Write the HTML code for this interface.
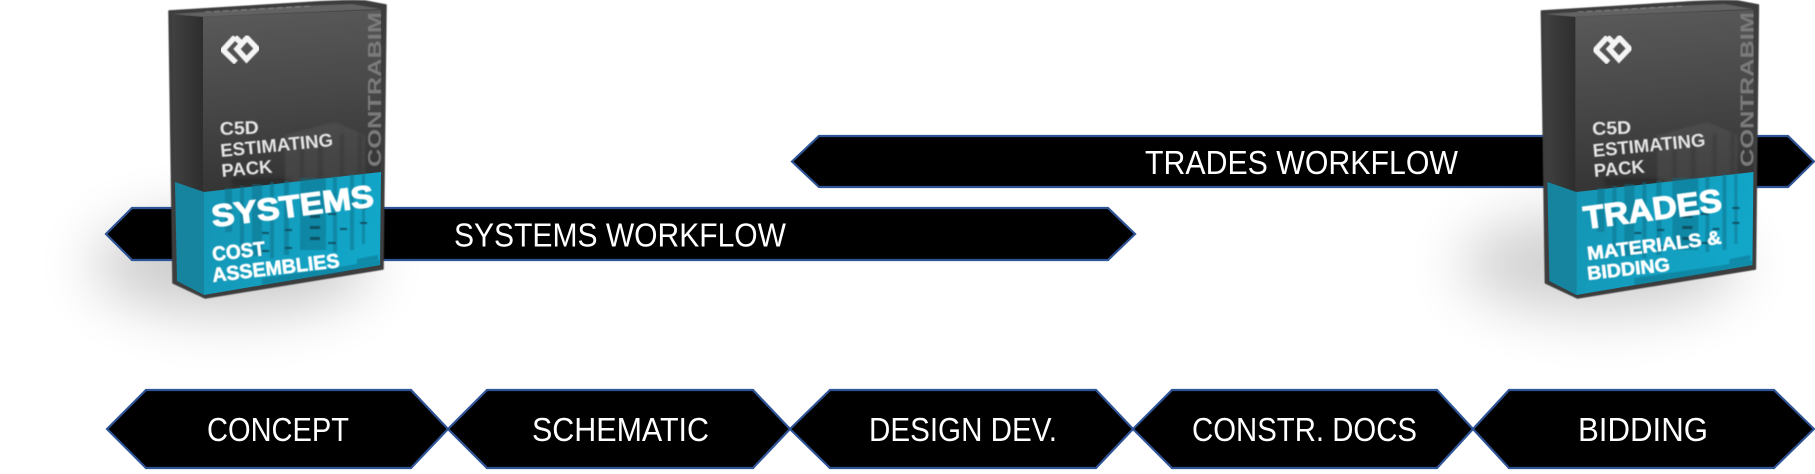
<!DOCTYPE html>
<html><head><meta charset="utf-8"><style>
html,body{margin:0;padding:0;background:#fff;width:1815px;height:474px;overflow:hidden}
svg{display:block}
text{font-family:"Liberation Sans",sans-serif}
.w{font-size:33px;fill:#fff}
.b{font-weight:700;fill:#fff}
</style></head><body>
<svg width="1815" height="474" viewBox="0 0 1815 474" xmlns="http://www.w3.org/2000/svg">
<defs>
<filter id="blur" x="-60%" y="-100%" width="220%" height="300%"><feGaussianBlur stdDeviation="29"/></filter>
<filter id="soft" x="-5%" y="-5%" width="110%" height="110%"><feGaussianBlur stdDeviation="0.6"/></filter>
<filter id="soft2" x="-5%" y="-5%" width="110%" height="110%"><feGaussianBlur stdDeviation="1"/></filter>
<linearGradient id="front" x1="0.35" y1="0" x2="0.45" y2="1"><stop offset="0" stop-color="#595959"/><stop offset="0.5" stop-color="#474747"/><stop offset="1" stop-color="#333"/></linearGradient>
<linearGradient id="side" x1="0" y1="0" x2="1" y2="0"><stop offset="0" stop-color="#414141"/><stop offset="1" stop-color="#2d2d2d"/></linearGradient>
<linearGradient id="blue" x1="0" y1="0" x2="1" y2="0.3"><stop offset="0" stop-color="#1594b3"/><stop offset="1" stop-color="#12a6c8"/></linearGradient>
<g id="box">
<path d="M169,11 L300,3 Q345,0 365,1 L386,5 L383,269 L205,298 L173,283 Z" fill="#3c3c3c" stroke="#3c3c3c" stroke-width="1.5" stroke-linejoin="round" filter="url(#soft)"/>
<polygon points="172,14 300,6 352,4 381,9 203,17" fill="#626262" filter="url(#soft)"/>
<g stroke="#9a9a9a" stroke-width="1" stroke-dasharray="6 3" opacity=".7" filter="url(#soft)"><line x1="205" y1="12" x2="312" y2="6"/></g>
<polygon points="172,15 203,17 203,192 175,182" fill="url(#side)"/>
<polygon points="203,17 381,10 381,172 203,192" fill="url(#front)"/>
<g filter="url(#soft2)" fill="#222" opacity=".45">
<rect x="300" y="148" width="4" height="36"/><rect x="318" y="138" width="5" height="44"/><rect x="340" y="134" width="4" height="42"/><rect x="358" y="134" width="4" height="42"/><rect x="232" y="178" width="60" height="8"/>
</g>
<g filter="url(#soft2)" fill="#6c6c6c" opacity=".25"><polygon points="285,135 335,122 365,135 365,175 285,185"/></g>
<polygon points="175,182 204,192 204,295 177,281" fill="#16849e"/>
<polygon points="204,192 381,172 380,265 204,295" fill="url(#blue)"/>
<g fill="#0d6f89" opacity=".5" filter="url(#soft)">
<rect x="225" y="188" width="7" height="44"/><rect x="240" y="186" width="4" height="70"/><rect x="252" y="184" width="10" height="72"/><rect x="270" y="182" width="4" height="76"/><rect x="284" y="181" width="5" height="74"/><rect x="300" y="178" width="26" height="72"/><rect x="333" y="176" width="4" height="76"/><rect x="350" y="174" width="4" height="76"/><rect x="362" y="174" width="3" height="70"/>
<polygon points="357,259 378,255 378,260 357,264"/><polygon points="345,266 380,260 380,265 345,271"/><polygon points="262,278 345,266 345,272 262,285"/>
</g>
<g fill="#0b3f4f" opacity=".75" filter="url(#soft)">
<rect x="262" y="232" width="7" height="2"/><rect x="285" y="229" width="7" height="2"/><rect x="310" y="215" width="10" height="3"/><rect x="310" y="226" width="10" height="3"/><rect x="310" y="237" width="10" height="3"/><rect x="328" y="213" width="8" height="2"/><rect x="360" y="222" width="7" height="2"/><rect x="285" y="247" width="7" height="2"/><rect x="328" y="242" width="8" height="2"/><rect x="360" y="207" width="7" height="2"/><rect x="340" y="228" width="7" height="2"/><rect x="262" y="250" width="7" height="2"/>
</g>
<g fill="none" stroke="#f4f4f4" stroke-width="5.5" stroke-linejoin="miter" filter="url(#soft)">
<polyline points="235,37 223,50 236,62.5"/>
<polygon points="247,38 257,48.5 246.5,59.5 237,49"/>
<polyline points="235,37 240,42"/>
</g>
</g>
</defs>

<rect width="1815" height="474" fill="#fff"/>
<ellipse cx="232" cy="264" rx="140" ry="50" fill="#000" opacity=".2" filter="url(#blur)"/>
<ellipse cx="1600" cy="264" rx="140" ry="50" fill="#000" opacity=".18" filter="url(#blur)"/>

<g stroke="#2f5496" stroke-width="2.2" fill="#000" stroke-linejoin="miter">
<polygon points="792,161.5 819,136 1788,136 1814,161.5 1788,187 819,187"/>
<polygon points="106,234 132,208 1108,208 1135,234 1108,260 132,260"/>
<polygon points="107,429 146,390 411,390 448,429 411,468 146,468"/>
<polygon points="448,429 487,390 753,390 790,429 753,468 487,468"/>
<polygon points="790,429 830,390 1096,390 1133,429 1096,468 830,468"/>
<polygon points="1133,429 1172,390 1437,390 1473,429 1437,468 1172,468"/>
<polygon points="1473,429 1509,390 1774,390 1814,429 1774,468 1509,468"/>
</g>

<text class="w" x="1145" y="174" textLength="313" lengthAdjust="spacingAndGlyphs">TRADES WORKFLOW</text>
<text class="w" x="454" y="246.5" textLength="332" lengthAdjust="spacingAndGlyphs">SYSTEMS WORKFLOW</text>
<text class="w" x="207" y="441" textLength="142" lengthAdjust="spacingAndGlyphs">CONCEPT</text>
<text class="w" x="532" y="441" textLength="177" lengthAdjust="spacingAndGlyphs">SCHEMATIC</text>
<text class="w" x="869" y="441" textLength="188" lengthAdjust="spacingAndGlyphs">DESIGN DEV.</text>
<text class="w" x="1192" y="441" textLength="225" lengthAdjust="spacingAndGlyphs">CONSTR. DOCS</text>
<text class="w" x="1578" y="441" textLength="130" lengthAdjust="spacingAndGlyphs">BIDDING</text>

<use href="#box"/>
<g filter="url(#soft)">
<text transform="translate(381,167) rotate(-90)" font-size="18" font-weight="700" fill="#7a7a7a" textLength="155" lengthAdjust="spacingAndGlyphs">CONTRABIM</text>
<text class="b" font-size="18.5" transform="translate(220,135) rotate(-2)" textLength="39" lengthAdjust="spacingAndGlyphs" style="fill:#e4e4e4">C5D</text>
<text class="b" font-size="18.5" transform="translate(221,157) rotate(-5.6)" textLength="113" lengthAdjust="spacingAndGlyphs" style="fill:#e4e4e4">ESTIMATING</text>
<text class="b" font-size="18.5" transform="translate(222,177) rotate(-5)" textLength="51" lengthAdjust="spacingAndGlyphs" style="fill:#e4e4e4">PACK</text>
<text class="b" font-size="31" stroke="#fff" stroke-width="1.2" transform="translate(213,227) rotate(-7.3)" textLength="163" lengthAdjust="spacingAndGlyphs">SYSTEMS</text>
<text class="b" font-size="20" stroke="#fff" stroke-width=".6" transform="translate(213,261) rotate(-6.5)" textLength="53" lengthAdjust="spacingAndGlyphs">COST</text>
<text class="b" font-size="20" stroke="#fff" stroke-width=".6" transform="translate(213,282) rotate(-6.7)" textLength="128" lengthAdjust="spacingAndGlyphs">ASSEMBLIES</text>
</g>

<use href="#box" x="1372.4"/>
<g filter="url(#soft)">
<text transform="translate(1753.4,167) rotate(-90)" font-size="18" font-weight="700" fill="#7a7a7a" textLength="155" lengthAdjust="spacingAndGlyphs">CONTRABIM</text>
<text class="b" font-size="18.5" transform="translate(1592.4,135) rotate(-2)" textLength="39" lengthAdjust="spacingAndGlyphs" style="fill:#e4e4e4">C5D</text>
<text class="b" font-size="18.5" transform="translate(1593.4,157) rotate(-5.6)" textLength="113" lengthAdjust="spacingAndGlyphs" style="fill:#e4e4e4">ESTIMATING</text>
<text class="b" font-size="18.5" transform="translate(1594.4,177) rotate(-5)" textLength="51" lengthAdjust="spacingAndGlyphs" style="fill:#e4e4e4">PACK</text>
<text class="b" font-size="32" stroke="#fff" stroke-width="1.2" transform="translate(1585,229) rotate(-7.5)" textLength="139" lengthAdjust="spacingAndGlyphs">TRADES</text>
<text class="b" font-size="19" stroke="#fff" stroke-width=".6" transform="translate(1588,260) rotate(-7)" textLength="135" lengthAdjust="spacingAndGlyphs">MATERIALS &amp;</text>
<text class="b" font-size="19" stroke="#fff" stroke-width=".6" transform="translate(1588,280) rotate(-6.5)" textLength="83" lengthAdjust="spacingAndGlyphs">BIDDING</text>
</g>
</svg>
</body></html>
